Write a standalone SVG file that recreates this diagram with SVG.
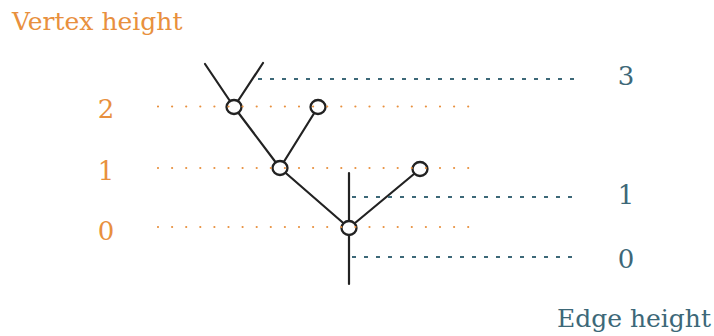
<svg xmlns="http://www.w3.org/2000/svg" width="714" height="336" viewBox="0 0 714 336">
<style>
.edge{stroke:#222;stroke-width:2.2;fill:none;stroke-linecap:round}
.node{fill:#fff;stroke:#222;stroke-width:2.3}
.vguide{stroke:#e8903e;stroke-width:2.2;stroke-dasharray:0 14.1;stroke-linecap:round;fill:none}
.eguide{stroke:#3d6878;stroke-width:2;stroke-dasharray:4 8;fill:none}
.vt{font-family:"DejaVu Serif",serif;font-size:25px;fill:#e8903e}
.et{font-family:"DejaVu Serif",serif;font-size:25px;fill:#3d6878}
.num{font-size:26px}
</style>
<rect width="714" height="336" fill="#fff"/>
<g id="connectors">
<line class="edge" x1="205" y1="64" x2="234" y2="107"/>
<line class="edge" x1="263" y1="63" x2="234" y2="107"/>
<line class="edge" x1="234" y1="107" x2="280" y2="168"/>
<line class="edge" x1="318" y1="107" x2="280" y2="168"/>
<line class="edge" x1="280" y1="168" x2="349" y2="228"/>
<line class="edge" x1="420" y1="169" x2="349" y2="228"/>
<line class="edge" x1="349" y1="173" x2="349" y2="284"/>
</g>
<g id="node-a"><ellipse class="node" cx="234" cy="107" rx="7.5" ry="7"/></g>
<g id="node-b"><ellipse class="node" cx="318" cy="107" rx="7.5" ry="7"/></g>
<g id="node-c"><ellipse class="node" cx="280" cy="168" rx="7.5" ry="7"/></g>
<g id="node-d"><ellipse class="node" cx="420" cy="169" rx="7.5" ry="7"/></g>
<g id="node-e"><ellipse class="node" cx="349" cy="228" rx="7.5" ry="7"/></g>
<g id="guides">
<line class="vguide" x1="158" y1="106.5" x2="470" y2="106.5"/>
<line class="vguide" x1="158" y1="168" x2="470" y2="168"/>
<line class="vguide" x1="158" y1="227" x2="470" y2="227"/>
<line class="eguide" x1="258" y1="79" x2="575" y2="79"/>
<line class="eguide" x1="352" y1="197" x2="575" y2="197"/>
<line class="eguide" x1="352" y1="257" x2="575" y2="257"/>
</g>
<g id="labels">
<text class="vt" x="12" y="29.5">Vertex height</text>
<text class="vt num" x="106" y="118" text-anchor="middle">2</text>
<text class="vt num" x="106" y="180" text-anchor="middle">1</text>
<text class="vt num" x="106" y="239.5" text-anchor="middle">0</text>
<text class="et num" x="626" y="85" text-anchor="middle">3</text>
<text class="et num" x="626" y="204" text-anchor="middle">1</text>
<text class="et num" x="626" y="268" text-anchor="middle">0</text>
<text class="et" x="711" y="327" text-anchor="end">Edge height</text>
</g>
</svg>
